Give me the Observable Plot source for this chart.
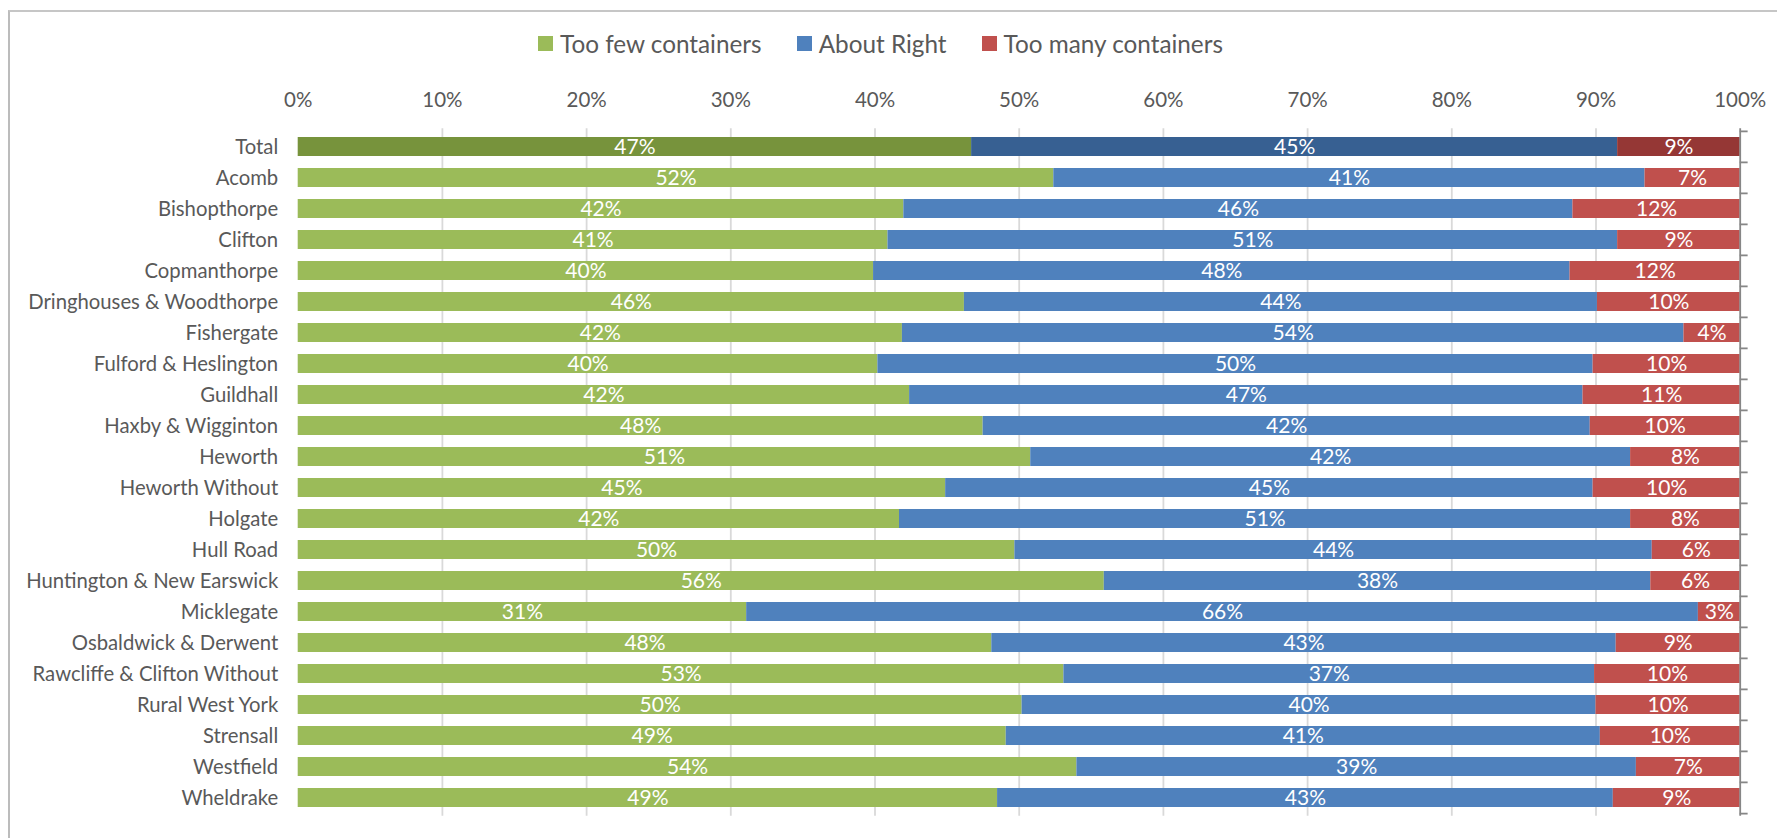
<!DOCTYPE html>
<html><head><meta charset="utf-8">
<script src="https://cdn.jsdelivr.net/npm/d3@7"></script>
<script src="https://cdn.jsdelivr.net/npm/@observablehq/plot@0.6"></script>
<style>
html,body{margin:0;padding:0;background:#fff;}
#wrap{position:relative;width:1777px;height:838px;overflow:hidden;background:#fff;}
#frame{position:absolute;left:8px;top:10px;width:1900px;height:900px;border-left:2.5px solid #bcbcbc;border-top:2.5px solid #c6c6c6;box-sizing:border-box;}
#chart{position:absolute;left:0;top:0;}
#legend{position:absolute;left:538px;top:27px;}
#legend .leg-swatches{font-family:Lato,sans-serif !important;font-size:24.3px !important;color:#595959 !important;margin:0 !important;}
#legend .leg-swatch{margin-right:35px !important;}
#legend .leg-swatch > svg{margin-right:7px !important;}
</style></head><body>
<div id="wrap"><div id="frame"></div><div id="chart"></div><div id="legend"></div></div>
<script>
const categories = ["Total","Acomb","Bishopthorpe","Clifton","Copmanthorpe","Dringhouses & Woodthorpe","Fishergate","Fulford & Heslington","Guildhall","Haxby & Wigginton","Heworth","Heworth Without","Holgate","Hull Road","Huntington & New Earswick","Micklegate","Osbaldwick & Derwent","Rawcliffe & Clifton Without","Rural West York","Strensall","Westfield","Wheldrake"];
const seriesNames = ["Too few containers","About Right","Too many containers"];
const tooFew     = [46.7,52.4,42.0,40.9,39.9,46.2,41.9,40.2,42.4,47.5,50.8,44.9,41.7,49.7,55.9,31.1,48.1,53.1,50.2,49.1,54.0,48.5];
const aboutRight = [44.8,41.0,46.4,50.6,48.3,43.9,54.2,49.6,46.7,42.1,41.6,44.9,50.7,44.2,37.9,66.0,43.3,36.8,39.8,41.2,38.8,42.7];
const tooMany    = [ 8.5, 6.6,11.6, 8.5,11.8, 9.9, 3.9,10.2,10.9,10.4, 7.6,10.2, 7.6, 6.1, 6.2, 2.9, 8.6,10.1,10.0, 9.7, 7.2, 8.8];
const seriesColors = ["#9BBB59","#4F81BD","#C0504D"];
const totalColors  = ["#77933C","#376092","#953735"];
const xTicks = [0,10,20,30,40,50,60,70,80,90,100];
const gridTicks = [10,20,30,40,50,60,70,80,90];

const seriesValues = [tooFew, aboutRight, tooMany];
const rows = [];
categories.forEach((name, i) => {
  seriesNames.forEach((s, j) => {
    rows.push({name, series: s, value: seriesValues[j][i], key: (name === "Total" ? "Total " : "") + s});
  });
});
const colorDomain = seriesNames.concat(seriesNames.map(s => "Total " + s));
const colorRange = seriesColors.concat(totalColors);

const W = 1777, H = 838;
const mL = 297.7, mR = 37.3, mT = 128.3, mB = 22.2;
const step = (H - mT - mB) / categories.length;

const chart = Plot.plot({
  width: W, height: H,
  marginLeft: mL, marginRight: mR, marginTop: mT, marginBottom: mB,
  style: {fontFamily: "Lato, sans-serif", fontSize: "20px", color: "#595959", background: "transparent", overflow: "visible"},
  x: {domain: [0, 100], label: null},
  y: {domain: categories, paddingInner: 0.4, paddingOuter: 0.2, label: null},
  color: {domain: colorDomain, range: colorRange},
  marks: [
    Plot.gridX(gridTicks, {stroke: "#d9d9d9", strokeOpacity: 1, strokeWidth: 1.8}),
    Plot.barX(rows, Plot.stackX({x: "value", y: "name", z: "series", fill: "key"})),
    Plot.text(rows, Plot.stackX({x: "value", y: "name", z: "series", text: d => Math.round(d.value) + "%", fill: "white", fontSize: 21})),
    Plot.axisX(xTicks, {anchor: "top", label: null, tickSize: 0, tickPadding: 22, tickFormat: d => d + "%", fontSize: 20.5, fill: "#595959"}),
    Plot.axisY({anchor: "left", label: null, tickSize: 0, tickPadding: 20, fontSize: 20.3, fill: "#595959"}),
    Plot.ruleX([100], {stroke: "#868686", strokeWidth: 1.8}),
    Plot.ruleY(categories, {y: d => d, x1: 100, x2: 100.55, dy: -step / 2, stroke: "#868686", strokeWidth: 1.8}),
    Plot.ruleY(categories.slice(-1), {y: d => d, x1: 100, x2: 100.55, dy: step / 2, stroke: "#868686", strokeWidth: 1.8})
  ]
});
document.getElementById("chart").appendChild(chart);

const leg = Plot.legend({
  legend: "swatches",
  color: {domain: seriesNames, range: seriesColors},
  swatchSize: 15,
  className: "leg",
  style: {fontFamily: "Lato, sans-serif", fontSize: "24.3px", color: "#595959"}
});
document.getElementById("legend").appendChild(leg);
</script>
</body></html>
